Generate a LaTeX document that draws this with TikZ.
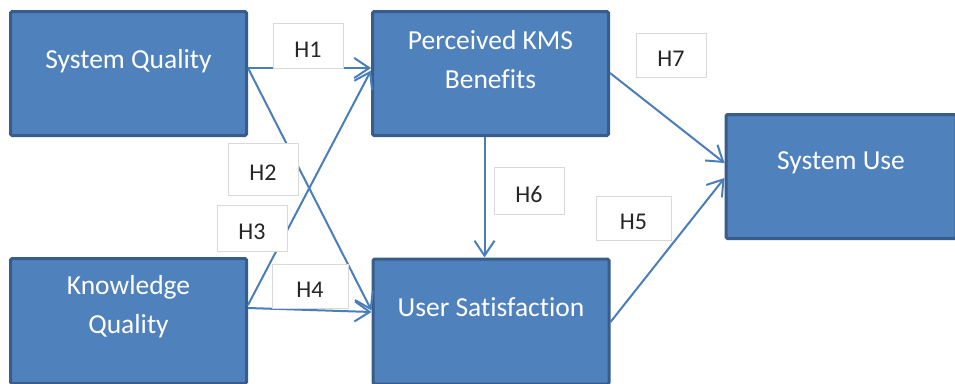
\documentclass[tikz,border=0pt]{standalone}
\usepackage{fontspec}
\setmainfont[Ligatures=NoCommon]{Carlito}
\usetikzlibrary{arrows.meta}
\definecolor{boxfill}{HTML}{4F81BD}
\definecolor{boxline}{HTML}{385D8A}
\definecolor{arrowcol}{HTML}{4A7EBB}
\definecolor{lblline}{HTML}{D9D9D9}
\begin{document}
\begin{tikzpicture}[x=1pt,y=-1pt,
  blockbox/.style={draw=boxline,fill=boxfill,line width=3pt,rounded corners=1.5pt,minimum width=236pt,minimum height=124pt,inner sep=0pt},
  blocktext/.style={text=white,font=\fontsize{27.5}{39}\selectfont,align=center,inner sep=0pt},
  hlabel/.style={draw=lblline,fill=white,line width=0.8pt,inner sep=0pt,text height=23.5pt,text depth=0pt,font=\fontsize{24}{28}\selectfont,text=black!85},
  link/.style={draw=arrowcol,line width=2pt,-{Straight Barb[length=15pt,width=20pt,line width=2pt]}}]
\useasboundingbox (0,0) rectangle (955,383);
% boxes
\node[blockbox] (sq) at (128.5,73.5) {};
\node[blockbox] (pk) at (490.5,73.5) {};
\node[blockbox,minimum width=230pt] (su) at (841,176.5) {};
\node[blockbox,minimum height=125pt] (kq) at (128.5,321) {};
\node[blockbox,minimum height=125pt] (us) at (491,321.5) {};
% connectors
\draw[link] ([yshift=5.5pt]sq.east) -- ([yshift=5.5pt]pk.west);
\draw[link] ([yshift=5.5pt]sq.east) -- ([yshift=11pt]us.west);
\draw[link] ([yshift=16pt]kq.east) -- ([yshift=3pt]pk.west);
\draw[link] ([yshift=13pt]kq.east) -- ([yshift=9.5pt]us.west);
\draw[link] ([xshift=-6pt]pk.south) -- ([xshift=-6.5pt]us.north);
\draw[link] ([yshift=0.5pt]pk.east) -- ([yshift=13.5pt]su.west);
\draw[link] ([yshift=-0.5pt]us.east) -- ([yshift=-1.5pt]su.west);
% box texts
\node[blocktext] (sqt) at (128.5,61) {System Quality};
\node[blocktext] (pkt) at (490.5,60) {Perceived KMS\\Benefits};
\node[blocktext] (sut) at (841,163) {System Use};
\node[blocktext] (kqt) at (128.5,307) {Knowledge\\Quality};
\node[blocktext] (ust) at (491,307) {User Satisfaction};
% hypothesis labels
\node[hlabel,minimum width=70pt,minimum height=45pt] (h1) at (308,45.5) {H1};
\node[hlabel,minimum width=70pt,minimum height=52pt] (h2) at (263,169) {H2};
\node[hlabel,minimum width=70pt,minimum height=46pt] (h3) at (252,228) {H3};
\node[hlabel,minimum width=76pt,minimum height=44pt] (h4) at (310,286) {H4};
\node[hlabel,minimum width=70pt,minimum height=47pt] (h6) at (529,190.5) {H6};
\node[hlabel,minimum width=75pt,minimum height=44pt] (h5) at (633.5,218) {H5};
\node[hlabel,minimum width=70pt,minimum height=44pt] (h7) at (671,55) {H7};
\end{tikzpicture}
\end{document}
